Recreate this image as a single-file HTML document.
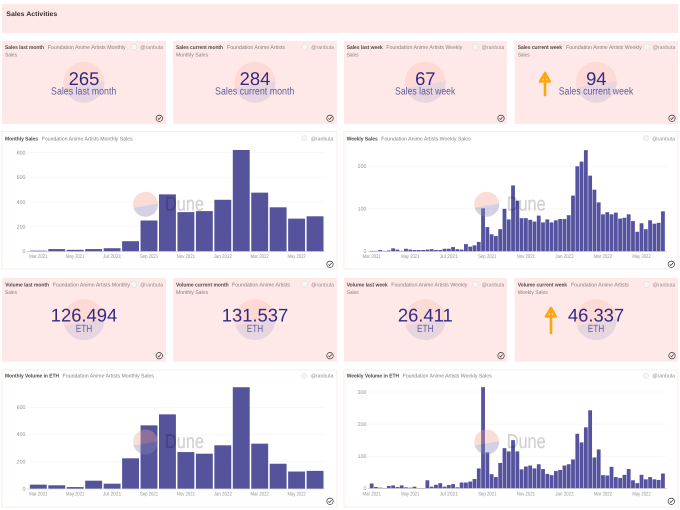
<!DOCTYPE html>
<html lang="en">
<head>
<meta charset="utf-8">
<title>Sales Activities</title>
<style>
html,body{margin:0;padding:0;background:#fff;width:680px;height:510px;overflow:hidden}
svg{display:block;font-family:"Liberation Sans",sans-serif;text-rendering:geometricPrecision}
.card{fill:#ffe9e8}
.box{fill:#fff;stroke:#ffe8e6;stroke-width:1}
.t{font-size:5.4px;font-weight:bold;fill:#4a4a4a}
.s{font-size:5.4px;fill:#808080}
.u{font-size:5.4px;fill:#8f8f8f}
.num{font-size:18.4px;fill:#2f2a86;text-anchor:middle}
.sub{font-size:10.4px;fill:#645d9f;text-anchor:middle}
.tick{font-size:5.3px;fill:#949494}
.dune{font-size:20px;fill:#000;fill-opacity:.17;stroke:#000;stroke-opacity:.1;stroke-width:.4}
.av{fill:#f6f6f6;stroke:#d8d8d8;stroke-width:.5}
.chk{fill:none;stroke:#333;stroke-width:.7}
.arrow{fill:none;stroke:#ffa50f;stroke-linecap:round;stroke-linejoin:round}
</style>
</head>
<body>
<svg id="page" width="680" height="510" viewBox="0 0 680 510" xmlns="http://www.w3.org/2000/svg">
<defs>
<g id="pie-logo">
<path d="M-.96 .28A1 1 0 1 1 .998 -.06Z" fill="#f4a292" fill-opacity=".22"/>
<path d="M-.96 .28A1 1 0 0 0 .998 -.06Z" fill="#8886bd" fill-opacity=".2"/>
</g>
<g id="pie-mark">
<path d="M-.96 .28A1 1 0 1 1 .998 -.06Z" fill="#f4a292" fill-opacity=".36"/>
<path d="M-.96 .28A1 1 0 0 0 .998 -.06Z" fill="#8886bd" fill-opacity=".38"/>
</g>
<g id="check-mark">
<circle r="3.2" class="chk"/>
<path d="M-1.5 .1L-.4 1.2L1.6 -1.3" class="chk"/>
</g>
</defs>

<rect class="card" x="2" y="4" width="676" height="29"/>
<text x="6.3" y="16" font-size="6.6" font-weight="bold" fill="#333" textLength="51" lengthAdjust="spacingAndGlyphs">Sales Activities</text>

<!-- Row 1 counters -->
<g>
<rect class="card" x="2" y="41" width="164" height="83"/>
<text class="t" x="5" y="49" textLength="39" lengthAdjust="spacingAndGlyphs">Sales last month</text>
<text class="s" x="47.7" y="49" textLength="78" lengthAdjust="spacingAndGlyphs">Foundation Anime Artists Monthly</text>
<text class="s" x="5" y="56.7" textLength="12" lengthAdjust="spacingAndGlyphs">Sales</text>
<circle class="av" cx="134" cy="47" r="3"/>
<text class="u" x="140.3" y="49" textLength="22.7" lengthAdjust="spacingAndGlyphs">@ranbuta</text>
<use href="#pie-logo" transform="translate(84 82.3) scale(20.5)"/>
<text class="num" x="84" y="85">265</text>
<text class="sub" x="83.7" y="94.3" textLength="65.3" lengthAdjust="spacingAndGlyphs">Sales last month</text>
<use href="#check-mark" transform="translate(159.3 118.3)"/>
</g>
<g>
<rect class="card" x="173" y="41" width="164" height="83"/>
<text class="t" x="176" y="49" textLength="47" lengthAdjust="spacingAndGlyphs">Sales current month</text>
<text class="s" x="227" y="49" textLength="58" lengthAdjust="spacingAndGlyphs">Foundation Anime Artists</text>
<text class="s" x="176" y="56.7" textLength="32" lengthAdjust="spacingAndGlyphs">Monthly Sales</text>
<circle class="av" cx="304.7" cy="47" r="3"/>
<text class="u" x="311.3" y="49" textLength="22.7" lengthAdjust="spacingAndGlyphs">@ranbuta</text>
<use href="#pie-logo" transform="translate(255 82.3) scale(20.5)"/>
<text class="num" x="255" y="85">284</text>
<text class="sub" x="254.7" y="94.3" textLength="79.3" lengthAdjust="spacingAndGlyphs">Sales current month</text>
<use href="#check-mark" transform="translate(330 118.3)"/>
</g>
<g>
<rect class="card" x="344" y="41" width="163" height="83"/>
<text class="t" x="346.7" y="49" textLength="36" lengthAdjust="spacingAndGlyphs">Sales last week</text>
<text class="s" x="386.3" y="49" textLength="76" lengthAdjust="spacingAndGlyphs">Foundation Anime Artists Weekly</text>
<text class="s" x="346.7" y="56.7" textLength="12" lengthAdjust="spacingAndGlyphs">Sales</text>
<circle class="av" cx="475.3" cy="47" r="3"/>
<text class="u" x="481.7" y="49" textLength="22.7" lengthAdjust="spacingAndGlyphs">@ranbuta</text>
<use href="#pie-logo" transform="translate(425.3 82.3) scale(20.5)"/>
<text class="num" x="425.3" y="85">67</text>
<text class="sub" x="425.2" y="94.3" textLength="60.3" lengthAdjust="spacingAndGlyphs">Sales last week</text>
<use href="#check-mark" transform="translate(501 118.3)"/>
</g>
<g>
<rect class="card" x="514.5" y="41" width="163.5" height="83"/>
<text class="t" x="517.7" y="49" textLength="44.3" lengthAdjust="spacingAndGlyphs">Sales current week</text>
<text class="s" x="566" y="49" textLength="75.7" lengthAdjust="spacingAndGlyphs">Foundation Anime Artists Weekly</text>
<text class="s" x="517.7" y="56.7" textLength="12" lengthAdjust="spacingAndGlyphs">Sales</text>
<circle class="av" cx="646.7" cy="47" r="3"/>
<text class="u" x="652.7" y="49" textLength="22.7" lengthAdjust="spacingAndGlyphs">@ranbuta</text>
<use href="#pie-logo" transform="translate(596.3 82.3) scale(20.5)"/>
<text class="num" x="596.3" y="85">94</text>
<text class="sub" x="596" y="94.3" textLength="74.6" lengthAdjust="spacingAndGlyphs">Sales current week</text>
<path class="arrow" stroke-width="2.6" d="M545 95V73M540 81.5L545 73L549.7 81.5Z"/>
<use href="#check-mark" transform="translate(672 118.3)"/>
</g>

<!-- Row 2 charts -->
<g>
<rect class="box" x="2" y="131.5" width="335" height="137.5"/>
<text class="t" x="5" y="140.3" textLength="33" lengthAdjust="spacingAndGlyphs">Monthly Sales</text>
<text class="s" x="41.7" y="140.3" textLength="91" lengthAdjust="spacingAndGlyphs">Foundation Anime Artists Monthly Sales</text>
<circle class="av" cx="304.3" cy="138.3" r="2.6"/>
<text class="u" x="310.7" y="140.3" textLength="22.7" lengthAdjust="spacingAndGlyphs">@ranbuta</text>
<g id="chart-monthly-sales"></g>
<use href="#pie-mark" transform="translate(145.5 204.3) scale(12.5)"/>
<text class="dune" x="165" y="210.5" textLength="39" lengthAdjust="spacingAndGlyphs">Dune</text>
<use href="#check-mark" transform="translate(330 264.3)"/>
</g>
<g>
<rect class="box" x="344" y="131.5" width="334" height="137.5"/>
<text class="t" x="346.7" y="140.3" textLength="31" lengthAdjust="spacingAndGlyphs">Weekly Sales</text>
<text class="s" x="381.3" y="140.3" textLength="89.4" lengthAdjust="spacingAndGlyphs">Foundation Anime Artists Weekly Sales</text>
<circle class="av" cx="646" cy="138.3" r="2.6"/>
<text class="u" x="652.3" y="140.3" textLength="22.7" lengthAdjust="spacingAndGlyphs">@ranbuta</text>
<g id="chart-weekly-sales"></g>
<use href="#pie-mark" transform="translate(486.7 204.3) scale(12.5)"/>
<text class="dune" x="506.7" y="210.5" textLength="39" lengthAdjust="spacingAndGlyphs">Dune</text>
<use href="#check-mark" transform="translate(671.3 264.3)"/>
</g>

<!-- Row 3 counters -->
<g>
<rect class="card" x="2" y="278" width="164" height="83.7"/>
<text class="t" x="5.3" y="286.3" textLength="43.7" lengthAdjust="spacingAndGlyphs">Volume last month</text>
<text class="s" x="52.7" y="286.3" textLength="77.3" lengthAdjust="spacingAndGlyphs">Foundation Anime Artists Monthly</text>
<text class="s" x="5" y="294" textLength="12" lengthAdjust="spacingAndGlyphs">Sales</text>
<circle class="av" cx="134" cy="284.3" r="3"/>
<text class="u" x="140.3" y="286.3" textLength="22.7" lengthAdjust="spacingAndGlyphs">@ranbuta</text>
<use href="#pie-logo" transform="translate(84 319.7) scale(20.5)"/>
<text class="num" x="84" y="321.7">126.494</text>
<text class="sub" x="84" y="332" textLength="16.6" lengthAdjust="spacingAndGlyphs">ETH</text>
<use href="#check-mark" transform="translate(159.3 355.7)"/>
</g>
<g>
<rect class="card" x="173" y="278" width="164" height="83.7"/>
<text class="t" x="176" y="286.3" textLength="52.7" lengthAdjust="spacingAndGlyphs">Volume current month</text>
<text class="s" x="232" y="286.3" textLength="58" lengthAdjust="spacingAndGlyphs">Foundation Anime Artists</text>
<text class="s" x="176" y="294" textLength="32" lengthAdjust="spacingAndGlyphs">Monthly Sales</text>
<circle class="av" cx="304.7" cy="284.3" r="3"/>
<text class="u" x="311.3" y="286.3" textLength="22.7" lengthAdjust="spacingAndGlyphs">@ranbuta</text>
<use href="#pie-logo" transform="translate(255 319.7) scale(20.5)"/>
<text class="num" x="255" y="321.7">131.537</text>
<text class="sub" x="255" y="332" textLength="16.6" lengthAdjust="spacingAndGlyphs">ETH</text>
<use href="#check-mark" transform="translate(330 355.7)"/>
</g>
<g>
<rect class="card" x="344" y="278" width="163" height="83.7"/>
<text class="t" x="346.7" y="286.3" textLength="41" lengthAdjust="spacingAndGlyphs">Volume last week</text>
<text class="s" x="391.3" y="286.3" textLength="76" lengthAdjust="spacingAndGlyphs">Foundation Anime Artists Weekly</text>
<text class="s" x="346.7" y="294" textLength="12" lengthAdjust="spacingAndGlyphs">Sales</text>
<circle class="av" cx="475.3" cy="284.3" r="3"/>
<text class="u" x="481.7" y="286.3" textLength="22.7" lengthAdjust="spacingAndGlyphs">@ranbuta</text>
<use href="#pie-logo" transform="translate(425.3 319.7) scale(20.5)"/>
<text class="num" x="425.3" y="321.7">26.411</text>
<text class="sub" x="425.3" y="332" textLength="16.6" lengthAdjust="spacingAndGlyphs">ETH</text>
<use href="#check-mark" transform="translate(501 355.7)"/>
</g>
<g>
<rect class="card" x="514.5" y="278" width="163.5" height="83.7"/>
<text class="t" x="517.7" y="286.3" textLength="49.3" lengthAdjust="spacingAndGlyphs">Volume current week</text>
<text class="s" x="571" y="286.3" textLength="57.7" lengthAdjust="spacingAndGlyphs">Foundation Anime Artists</text>
<text class="s" x="517.7" y="294" textLength="30" lengthAdjust="spacingAndGlyphs">Weekly Sales</text>
<circle class="av" cx="646.7" cy="284.3" r="3"/>
<text class="u" x="652.7" y="286.3" textLength="22.7" lengthAdjust="spacingAndGlyphs">@ranbuta</text>
<use href="#pie-logo" transform="translate(596.3 319.7) scale(20.5)"/>
<text class="num" x="596" y="321.7">46.337</text>
<text class="sub" x="596" y="332" textLength="16.6" lengthAdjust="spacingAndGlyphs">ETH</text>
<path class="arrow" stroke-width="2.6" d="M551 333V308M546 316.5L551 308L555.7 316.5Z"/>
<use href="#check-mark" transform="translate(672 355.7)"/>
</g>

<!-- Row 4 charts -->
<g>
<rect class="box" x="2" y="370" width="335" height="137"/>
<text class="t" x="5" y="377.7" textLength="54" lengthAdjust="spacingAndGlyphs">Monthly Volume in ETH</text>
<text class="s" x="62.7" y="377.7" textLength="91.3" lengthAdjust="spacingAndGlyphs">Foundation Anime Artists Monthly Sales</text>
<circle class="av" cx="304.3" cy="375.7" r="2.6"/>
<text class="u" x="310.7" y="377.7" textLength="22.7" lengthAdjust="spacingAndGlyphs">@ranbuta</text>
<g id="chart-monthly-volume"></g>
<use href="#pie-mark" transform="translate(145.5 442) scale(12.5)"/>
<text class="dune" x="165" y="448" textLength="39" lengthAdjust="spacingAndGlyphs">Dune</text>
<use href="#check-mark" transform="translate(330 501.3)"/>
</g>
<g>
<rect class="box" x="344" y="370" width="334" height="137"/>
<text class="t" x="346.7" y="377.7" textLength="52.3" lengthAdjust="spacingAndGlyphs">Weekly Volume in ETH</text>
<text class="s" x="402.7" y="377.7" textLength="89" lengthAdjust="spacingAndGlyphs">Foundation Anime Artists Weekly Sales</text>
<circle class="av" cx="646" cy="375.7" r="2.6"/>
<text class="u" x="652.3" y="377.7" textLength="22.7" lengthAdjust="spacingAndGlyphs">@ranbuta</text>
<g id="chart-weekly-volume"></g>
<use href="#pie-mark" transform="translate(486.7 442) scale(12.5)"/>
<text class="dune" x="506.7" y="448" textLength="39" lengthAdjust="spacingAndGlyphs">Dune</text>
<use href="#check-mark" transform="translate(671.3 501.3)"/>
</g>
</svg>

<script>
// Chart data
const tickLabels = ["Mar 2021","May 2021","Jul 2021","Sep 2021","Nov 2021","Jan 2022","Mar 2022","May 2022"];

const monthlySales = [5,18,12,18,25,82,250,462,318,326,418,822,476,357,265,284];
const monthlyVolume = [30,25,12,59,37,224,467,548,270,258,320,748,332,184,126.494,131.537];
const weeklySales = [1,1,3,1,2,7,4,1,6,4,3,3,3,4,5,3,3,6,6,10,5,4,17,11,14,22,101,57,40,36,52,100,75,155,119,78,78,74,70,84,68,75,68,73,76,76,85,131,200,211,238,178,145,115,87,92,87,91,77,79,87,71,46,66,52,73,65,67,94];
const weeklyVolume = [15,4,2,1,7,9,4,9,3,2,5,1,1,25,5,11,16,5,10,13,3,18,18,21,29,62,315,112,44,35,79,125,115,150,115,59,68,71,62,75,60,45,41,54,57,71,75,90,170,143,190,243,96,121,41,40,67,35,32,42,60,25,16,42,28,35,28,26,46];

const monthlySalesTicks = [0,200,400,600,800];
const monthlyVolumeTicks = [0,200,400,600];
const weeklySalesTicks = [0,100,200];
const weeklyVolumeTicks = [0,100,200,300];

const NS = "http://www.w3.org/2000/svg";

function drawChart(id, values, yTicks, labelEvery, o) {
  const root = document.getElementById(id);
  const xCenter = i => o.first + o.step * i;
  const yPos = v => o.y0 - v * o.pxPerUnit;

  yTicks.forEach(t => {
    if (t > 0) {
      const g = document.createElementNS(NS, "line");
      
      
      g.setAttribute("x1", o.left);
      g.setAttribute("x2", o.right);
      g.setAttribute("y1", yPos(t));
      g.setAttribute("y2", yPos(t));
      g.setAttribute("stroke", "#f3f3f3");
      g.setAttribute("stroke-width", "0.6");
      root.appendChild(g);
    }
    const l = document.createElementNS(NS, "text");
    
    
    l.setAttribute("class", "tick");
    l.setAttribute("x", o.left - 1.5);
    l.setAttribute("y", yPos(t) + 1.8);
    l.setAttribute("text-anchor", "end");
    l.textContent = t;
    root.appendChild(l);
  });

  values.forEach((v, i) => {
    const b = document.createElementNS(NS, "rect");
    
    
    b.setAttribute("x", xCenter(i) - o.barW / 2);
    b.setAttribute("y", yPos(v));
    b.setAttribute("width", o.barW);
    b.setAttribute("height", o.y0 - yPos(v));
    b.setAttribute("fill", o.fill);
    root.appendChild(b);
  });

  const axis = document.createElementNS(NS, "line");
  
  
  axis.setAttribute("x1", o.left);
  axis.setAttribute("x2", o.right);
  axis.setAttribute("y1", o.y0 + 0.3);
  axis.setAttribute("y2", o.y0 + 0.3);
  axis.setAttribute("stroke", "#c4c4c4");
  axis.setAttribute("stroke-width", "0.6");
  root.appendChild(axis);

  tickLabels.forEach((label, k) => {
    const t = document.createElementNS(NS, "text");
    
    
    t.setAttribute("class", "tick");
    t.setAttribute("x", xCenter(k * labelEvery));
    t.setAttribute("y", o.labelY);
    t.setAttribute("text-anchor", "middle");
    t.setAttribute("textLength", "18.3");
    t.setAttribute("lengthAdjust", "spacingAndGlyphs");
    t.textContent = label;
    root.appendChild(t);
  });
}

drawChart("chart-monthly-sales", monthlySales, monthlySalesTicks, 2, {
  first: 38.3, step: 18.45, barW: 16.9, left: 27, right: 325,
  y0: 251.3, pxPerUnit: 98.6 / 800, labelY: 258.2, fill: "#55539b"
});
drawChart("chart-monthly-volume", monthlyVolume, monthlyVolumeTicks, 2, {
  first: 38.3, step: 18.45, barW: 16.9, left: 27, right: 325,
  y0: 488.7, pxPerUnit: 81.4 / 600, labelY: 495.4, fill: "#55539b"
});
drawChart("chart-weekly-sales", weeklySales, weeklySalesTicks, 9, {
  first: 371.7, step: 4.283, barW: 3.8, left: 368, right: 666.7,
  y0: 251.3, pxPerUnit: 85 / 200, labelY: 258.2, fill: "#55539f"
});
drawChart("chart-weekly-volume", weeklyVolume, weeklyVolumeTicks, 9, {
  first: 371.7, step: 4.283, barW: 3.8, left: 368, right: 666.7,
  y0: 488.3, pxPerUnit: 96.3 / 300, labelY: 495.4, fill: "#55539f"
});
</script>
</body>
</html>
